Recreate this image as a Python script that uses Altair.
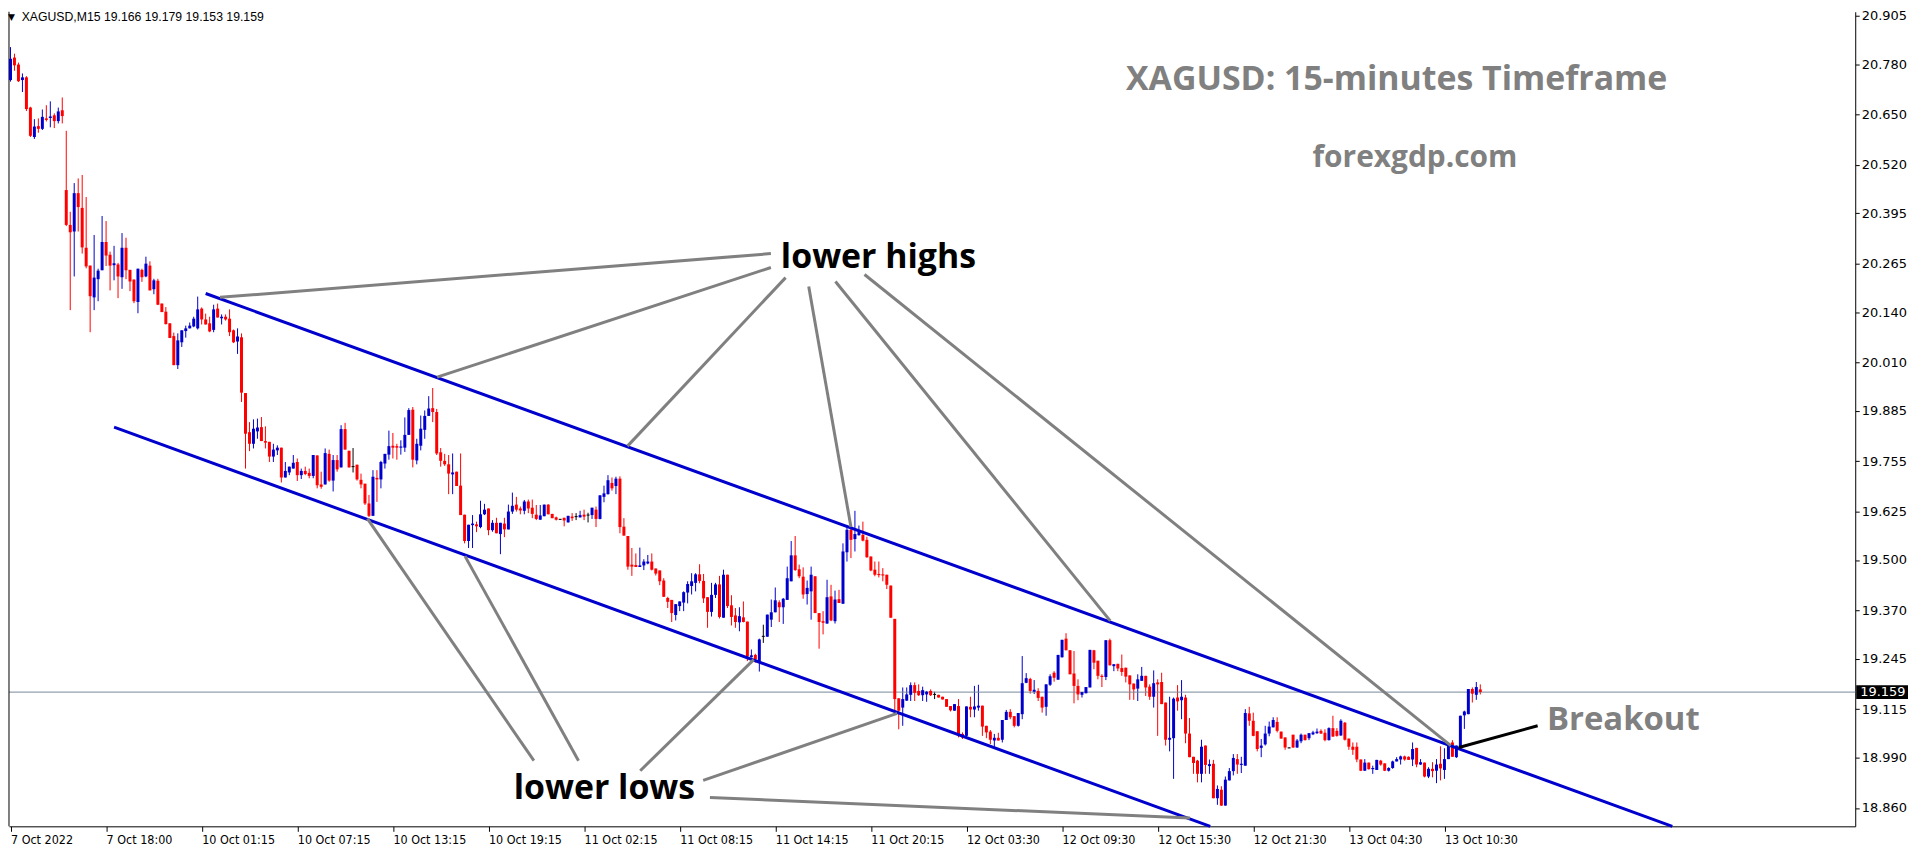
import json
import altair as alt
import pandas as pd

# ---------------- data ----------------
opens = [
 20.739, 20.797, 20.779, 20.739, 20.746, 20.668, 20.592, 20.620, 20.613, 20.640,
 20.641, 20.648, 20.633, 20.661, 20.455, 20.365, 20.348, 20.447, 20.409, 20.306,
 20.260, 20.178, 20.225, 20.248, 20.321, 20.288, 20.261, 20.263, 20.230, 20.306,
 20.249, 20.224, 20.166, 20.249, 20.232, 20.260, 20.199, 20.221, 20.162, 20.141,
 20.111, 20.078, 20.003, 20.062, 20.091, 20.098, 20.103, 20.098, 20.149, 20.121,
 20.111, 20.094, 20.149, 20.124, 20.128, 20.123, 20.093, 20.064, 20.075, 19.931,
 19.830, 19.800, 19.832, 19.843, 19.807, 19.805, 19.767, 19.783, 19.790, 19.713,
 19.726, 19.736, 19.753, 19.719, 19.730, 19.725, 19.717, 19.770, 19.695, 19.695,
 19.774, 19.705, 19.758, 19.739, 19.838, 19.782, 19.741, 19.746, 19.707, 19.697,
 19.646, 19.614, 19.712, 19.708, 19.749, 19.772, 19.795, 19.794, 19.790, 19.790,
 19.823, 19.888, 19.757, 19.795, 19.836, 19.872, 19.892, 19.882, 19.778, 19.756,
 19.747, 19.721, 19.728, 19.692, 19.617, 19.549, 19.590, 19.592, 19.585, 19.618,
 19.633, 19.577, 19.596, 19.567, 19.594, 19.579, 19.625, 19.643, 19.633, 19.627,
 19.651, 19.635, 19.617, 19.604, 19.613, 19.643, 19.619, 19.610, 19.605, 19.609,
 19.597, 19.612, 19.612, 19.610, 19.617, 19.616, 19.616, 19.630, 19.606, 19.663,
 19.670, 19.699, 19.691, 19.710, 19.586, 19.562, 19.488, 19.487, 19.482, 19.486,
 19.491, 19.496, 19.478, 19.473, 19.447, 19.402, 19.397, 19.358, 19.381, 19.390,
 19.416, 19.433, 19.441, 19.463, 19.446, 19.404, 19.366, 19.410, 19.437, 19.351,
 19.462, 19.383, 19.357, 19.339, 19.352, 19.341, 19.249, 19.255, 19.239, 19.303,
 19.302, 19.346, 19.365, 19.391, 19.378, 19.397, 19.445, 19.512, 19.476, 19.457,
 19.412, 19.419, 19.458, 19.363, 19.342, 19.336, 19.406, 19.342, 19.399, 19.387,
 19.520, 19.578, 19.554, 19.564, 19.565, 19.552, 19.509, 19.475, 19.464, 19.463,
 19.462, 19.434, 19.348, 19.143, 19.119, 19.137, 19.152, 19.177, 19.162, 19.151,
 19.153, 19.162, 19.153, 19.152, 19.147, 19.141, 19.123, 19.111, 19.123, 19.051,
 19.046, 19.121, 19.114, 19.119, 19.124, 19.072, 19.057, 19.034, 19.041, 19.036,
 19.087, 19.108, 19.097, 19.072, 19.102, 19.183, 19.193, 19.160, 19.162, 19.147,
 19.121, 19.178, 19.209, 19.191, 19.249, 19.297, 19.267, 19.207, 19.175, 19.152,
 19.156, 19.171, 19.267, 19.240, 19.201, 19.198, 19.293, 19.226, 19.232, 19.221,
 19.222, 19.202, 19.181, 19.168, 19.188, 19.201, 19.173, 19.147, 19.184, 19.185,
 19.132, 19.036, 19.040, 19.145, 19.138, 19.145, 19.052, 18.992, 18.982, 18.948,
 19.021, 18.968, 18.974, 18.885, 18.907, 18.866, 18.931, 18.955, 18.986, 18.971,
 18.969, 19.104, 19.085, 19.058, 19.015, 19.024, 19.052, 19.068, 19.082, 19.057,
 19.042, 19.015, 19.049, 19.016, 19.032, 19.049, 19.040, 19.050, 19.053, 19.059,
 19.054, 19.035, 19.066, 19.059, 19.047, 19.080, 19.039, 19.018, 19.018, 18.985,
 18.956, 18.977, 18.960, 18.958, 18.982, 18.975, 18.956, 18.963, 18.980, 18.985,
 18.993, 18.992, 18.985, 19.015, 18.972, 18.977, 18.941, 18.961, 18.956, 18.974,
 18.958, 18.986, 19.029, 18.991, 19.019, 19.099, 19.102, 19.167, 19.152, 19.166,
]
highs = [
 20.824, 20.807, 20.784, 20.756, 20.749, 20.670, 20.638, 20.640, 20.663, 20.674,
 20.684, 20.653, 20.668, 20.694, 20.608, 20.399, 20.473, 20.485, 20.494, 20.437,
 20.260, 20.339, 20.252, 20.388, 20.375, 20.296, 20.311, 20.267, 20.344, 20.332,
 20.249, 20.224, 20.252, 20.252, 20.283, 20.271, 20.226, 20.226, 20.162, 20.153,
 20.111, 20.087, 20.085, 20.093, 20.105, 20.113, 20.128, 20.180, 20.152, 20.136,
 20.128, 20.159, 20.162, 20.134, 20.134, 20.147, 20.095, 20.098, 20.085, 19.931,
 19.856, 19.863, 19.865, 19.869, 19.845, 19.805, 19.800, 19.796, 19.790, 19.753,
 19.741, 19.771, 19.762, 19.736, 19.741, 19.736, 19.771, 19.770, 19.728, 19.788,
 19.785, 19.771, 19.771, 19.848, 19.854, 19.782, 19.789, 19.746, 19.723, 19.697,
 19.668, 19.732, 19.732, 19.756, 19.774, 19.834, 19.828, 19.800, 19.809, 19.868,
 19.892, 19.895, 19.813, 19.873, 19.886, 19.923, 19.944, 19.890, 19.789, 19.774,
 19.771, 19.775, 19.728, 19.775, 19.617, 19.591, 19.616, 19.599, 19.653, 19.645,
 19.633, 19.603, 19.609, 19.596, 19.609, 19.643, 19.674, 19.663, 19.638, 19.655,
 19.656, 19.656, 19.642, 19.642, 19.643, 19.644, 19.619, 19.612, 19.606, 19.609,
 19.614, 19.621, 19.621, 19.627, 19.630, 19.622, 19.635, 19.638, 19.667, 19.692,
 19.719, 19.713, 19.715, 19.716, 19.608, 19.562, 19.531, 19.517, 19.532, 19.502,
 19.513, 19.517, 19.478, 19.473, 19.453, 19.405, 19.397, 19.386, 19.393, 19.419,
 19.445, 19.466, 19.466, 19.489, 19.464, 19.404, 19.441, 19.441, 19.459, 19.475,
 19.462, 19.409, 19.376, 19.378, 19.393, 19.341, 19.269, 19.258, 19.297, 19.333,
 19.359, 19.398, 19.429, 19.396, 19.402, 19.483, 19.549, 19.562, 19.488, 19.481,
 19.447, 19.483, 19.458, 19.363, 19.368, 19.449, 19.436, 19.421, 19.423, 19.543,
 19.586, 19.586, 19.627, 19.589, 19.599, 19.560, 19.509, 19.496, 19.496, 19.479,
 19.462, 19.434, 19.348, 19.143, 19.171, 19.171, 19.184, 19.184, 19.179, 19.173,
 19.162, 19.166, 19.160, 19.152, 19.147, 19.141, 19.123, 19.128, 19.141, 19.055,
 19.122, 19.147, 19.175, 19.178, 19.124, 19.072, 19.061, 19.051, 19.054, 19.087,
 19.113, 19.115, 19.097, 19.105, 19.252, 19.208, 19.196, 19.190, 19.169, 19.147,
 19.179, 19.205, 19.213, 19.255, 19.294, 19.311, 19.267, 19.265, 19.192, 19.159,
 19.172, 19.268, 19.268, 19.240, 19.205, 19.293, 19.297, 19.231, 19.232, 19.256,
 19.222, 19.202, 19.181, 19.205, 19.224, 19.201, 19.179, 19.215, 19.192, 19.209,
 19.132, 19.147, 19.145, 19.177, 19.190, 19.152, 19.092, 18.992, 18.984, 19.036,
 19.021, 18.985, 18.984, 18.918, 18.916, 18.941, 18.963, 18.999, 18.999, 18.992,
 19.115, 19.121, 19.106, 19.058, 19.038, 19.072, 19.083, 19.094, 19.094, 19.057,
 19.042, 19.016, 19.049, 19.038, 19.052, 19.049, 19.053, 19.059, 19.065, 19.063,
 19.063, 19.068, 19.098, 19.066, 19.089, 19.082, 19.039, 19.029, 19.029, 18.985,
 18.986, 18.977, 18.969, 18.984, 18.984, 18.975, 18.965, 18.982, 18.991, 18.995,
 18.995, 18.993, 19.029, 19.015, 18.986, 18.977, 18.965, 18.978, 18.986, 19.019,
 19.014, 19.027, 19.035, 19.021, 19.098, 19.111, 19.167, 19.171, 19.185, 19.179,
]
lows = [
 20.735, 20.763, 20.734, 20.708, 20.659, 20.592, 20.587, 20.603, 20.610, 20.632,
 20.617, 20.615, 20.627, 20.627, 20.362, 20.145, 20.232, 20.348, 20.291, 20.253,
 20.088, 20.145, 20.168, 20.248, 20.259, 20.196, 20.222, 20.176, 20.200, 20.225,
 20.194, 20.163, 20.137, 20.218, 20.230, 20.196, 20.186, 20.158, 20.140, 20.108,
 20.073, 20.003, 19.993, 20.050, 20.074, 20.098, 20.101, 20.095, 20.108, 20.108,
 20.088, 20.088, 20.126, 20.108, 20.118, 20.078, 20.060, 20.032, 19.908, 19.736,
 19.781, 19.788, 19.813, 19.807, 19.788, 19.753, 19.753, 19.771, 19.700, 19.713,
 19.719, 19.736, 19.704, 19.709, 19.719, 19.711, 19.711, 19.685, 19.684, 19.695,
 19.702, 19.677, 19.728, 19.739, 19.785, 19.739, 19.726, 19.705, 19.685, 19.642,
 19.611, 19.614, 19.650, 19.685, 19.736, 19.759, 19.762, 19.759, 19.772, 19.779,
 19.823, 19.739, 19.747, 19.783, 19.813, 19.872, 19.856, 19.771, 19.741, 19.743,
 19.670, 19.670, 19.691, 19.616, 19.543, 19.531, 19.531, 19.572, 19.582, 19.616,
 19.564, 19.573, 19.569, 19.515, 19.559, 19.579, 19.619, 19.625, 19.618, 19.618,
 19.621, 19.608, 19.603, 19.604, 19.613, 19.618, 19.608, 19.602, 19.604, 19.587,
 19.597, 19.601, 19.603, 19.610, 19.603, 19.597, 19.606, 19.585, 19.605, 19.649,
 19.669, 19.679, 19.670, 19.569, 19.563, 19.475, 19.459, 19.482, 19.482, 19.474,
 19.489, 19.473, 19.460, 19.435, 19.405, 19.376, 19.340, 19.344, 19.368, 19.368,
 19.388, 19.411, 19.419, 19.440, 19.389, 19.325, 19.354, 19.402, 19.349, 19.351,
 19.376, 19.331, 19.325, 19.316, 19.339, 19.239, 19.248, 19.235, 19.212, 19.286,
 19.302, 19.327, 19.365, 19.340, 19.335, 19.397, 19.445, 19.472, 19.453, 19.400,
 19.385, 19.346, 19.363, 19.271, 19.308, 19.335, 19.342, 19.336, 19.389, 19.387,
 19.496, 19.505, 19.522, 19.563, 19.548, 19.506, 19.471, 19.458, 19.455, 19.445,
 19.425, 19.351, 19.111, 19.063, 19.072, 19.136, 19.136, 19.136, 19.149, 19.136,
 19.134, 19.149, 19.141, 19.145, 19.140, 19.121, 19.109, 19.111, 19.042, 19.038,
 19.044, 19.094, 19.094, 19.111, 19.046, 19.040, 19.025, 19.018, 19.034, 19.029,
 19.087, 19.089, 19.068, 19.070, 19.089, 19.182, 19.155, 19.154, 19.136, 19.106,
 19.098, 19.175, 19.186, 19.191, 19.248, 19.267, 19.205, 19.130, 19.138, 19.145,
 19.156, 19.171, 19.218, 19.192, 19.172, 19.190, 19.228, 19.213, 19.213, 19.201,
 19.184, 19.139, 19.139, 19.136, 19.188, 19.149, 19.139, 19.119, 19.046, 19.128,
 19.021, 19.006, 18.935, 19.111, 19.089, 19.027, 18.991, 18.948, 18.926, 18.926,
 18.948, 18.948, 18.885, 18.868, 18.865, 18.866, 18.931, 18.944, 18.948, 18.950,
 18.969, 19.072, 19.045, 19.006, 18.991, 19.021, 19.045, 19.068, 19.055, 19.039,
 19.010, 19.014, 19.015, 19.015, 19.027, 19.034, 19.035, 19.048, 19.051, 19.051,
 19.032, 19.034, 19.044, 19.044, 19.046, 19.034, 19.010, 18.997, 18.978, 18.955,
 18.956, 18.959, 18.948, 18.958, 18.969, 18.955, 18.954, 18.961, 18.980, 18.972,
 18.982, 18.984, 18.968, 18.965, 18.971, 18.939, 18.937, 18.939, 18.924, 18.931,
 18.935, 18.986, 18.992, 18.989, 19.016, 19.064, 19.102, 19.132, 19.139, 19.153,
]
closes = [
 20.794, 20.777, 20.736, 20.746, 20.664, 20.595, 20.619, 20.613, 20.644, 20.636,
 20.645, 20.633, 20.658, 20.646, 20.365, 20.346, 20.447, 20.411, 20.307, 20.258,
 20.181, 20.229, 20.247, 20.321, 20.286, 20.260, 20.266, 20.232, 20.306, 20.248,
 20.219, 20.168, 20.252, 20.230, 20.265, 20.196, 20.222, 20.159, 20.140, 20.109,
 20.073, 20.003, 20.067, 20.093, 20.098, 20.105, 20.123, 20.147, 20.121, 20.108,
 20.090, 20.147, 20.126, 20.128, 20.121, 20.088, 20.062, 20.077, 19.932, 19.826,
 19.800, 19.839, 19.842, 19.807, 19.803, 19.767, 19.785, 19.790, 19.713, 19.730,
 19.741, 19.751, 19.719, 19.730, 19.722, 19.717, 19.771, 19.693, 19.689, 19.776,
 19.705, 19.758, 19.734, 19.838, 19.785, 19.739, 19.741, 19.708, 19.695, 19.646,
 19.614, 19.715, 19.708, 19.753, 19.774, 19.794, 19.790, 19.790, 19.793, 19.823,
 19.887, 19.759, 19.800, 19.839, 19.872, 19.891, 19.882, 19.775, 19.756, 19.747,
 19.723, 19.726, 19.691, 19.616, 19.549, 19.591, 19.594, 19.587, 19.618, 19.630,
 19.577, 19.596, 19.569, 19.596, 19.579, 19.625, 19.640, 19.630, 19.628, 19.651,
 19.633, 19.619, 19.606, 19.615, 19.643, 19.618, 19.608, 19.604, 19.605, 19.602,
 19.614, 19.608, 19.612, 19.616, 19.612, 19.616, 19.635, 19.606, 19.667, 19.672,
 19.706, 19.685, 19.710, 19.585, 19.563, 19.483, 19.483, 19.482, 19.486, 19.496,
 19.496, 19.475, 19.465, 19.445, 19.405, 19.392, 19.363, 19.386, 19.393, 19.417,
 19.438, 19.445, 19.463, 19.446, 19.401, 19.366, 19.410, 19.437, 19.353, 19.462,
 19.381, 19.353, 19.340, 19.355, 19.340, 19.251, 19.254, 19.243, 19.295, 19.303,
 19.359, 19.365, 19.396, 19.378, 19.400, 19.453, 19.512, 19.474, 19.458, 19.411,
 19.428, 19.462, 19.363, 19.340, 19.338, 19.404, 19.344, 19.398, 19.389, 19.522,
 19.578, 19.552, 19.567, 19.572, 19.550, 19.507, 19.473, 19.462, 19.461, 19.460,
 19.436, 19.351, 19.141, 19.111, 19.141, 19.153, 19.177, 19.157, 19.151, 19.164,
 19.160, 19.151, 19.153, 19.145, 19.140, 19.121, 19.112, 19.128, 19.049, 19.042,
 19.122, 19.114, 19.122, 19.124, 19.070, 19.055, 19.036, 19.041, 19.034, 19.087,
 19.108, 19.094, 19.072, 19.105, 19.182, 19.195, 19.162, 19.165, 19.144, 19.119,
 19.179, 19.200, 19.196, 19.255, 19.294, 19.267, 19.205, 19.175, 19.153, 19.159,
 19.172, 19.268, 19.235, 19.201, 19.198, 19.293, 19.228, 19.231, 19.220, 19.211,
 19.199, 19.179, 19.166, 19.192, 19.201, 19.171, 19.147, 19.182, 19.179, 19.128,
 19.036, 19.041, 19.142, 19.135, 19.147, 19.052, 18.991, 18.976, 18.948, 19.018,
 18.971, 18.973, 18.885, 18.909, 18.866, 18.933, 18.955, 18.989, 18.972, 18.974,
 19.105, 19.085, 19.046, 19.012, 19.021, 19.052, 19.070, 19.087, 19.059, 19.039,
 19.016, 19.015, 19.016, 19.034, 19.049, 19.035, 19.053, 19.055, 19.057, 19.052,
 19.035, 19.066, 19.044, 19.046, 19.085, 19.036, 19.018, 19.010, 18.985, 18.956,
 18.977, 18.960, 18.963, 18.984, 18.972, 18.956, 18.963, 18.980, 18.986, 18.993,
 18.985, 18.984, 19.012, 18.972, 18.978, 18.941, 18.961, 18.955, 18.972, 18.962,
 18.986, 19.023, 18.992, 19.021, 19.098, 19.109, 19.167, 19.155, 19.172, 19.159,
]

x_tick_bars = [0, 24, 48, 72, 96, 120, 144, 168, 192, 216, 240, 264, 288, 312, 336, 360]
x_tick_labels = ["7 Oct 2022", "7 Oct 18:00", "10 Oct 01:15", "10 Oct 07:15", "10 Oct 13:15",
                 "10 Oct 19:15", "11 Oct 02:15", "11 Oct 08:15", "11 Oct 14:15", "11 Oct 20:15",
                 "12 Oct 03:30", "12 Oct 09:30", "12 Oct 15:30", "12 Oct 21:30", "13 Oct 04:30",
                 "13 Oct 10:30"]
y_tick_values = [20.905, 20.780, 20.650, 20.520, 20.395, 20.265, 20.140, 20.010, 19.885,
                 19.755, 19.625, 19.500, 19.370, 19.245, 19.115, 18.990, 18.860]
last_price = 19.159
header_text = "XAGUSD,M15  19.166 19.179 19.153 19.159"

# channel lines (bar index, price)
channel_x1 = [49, 26]
channel_y1 = [20.188, 19.843]
channel_x2 = [417.2, 301.2]
channel_y2 = [18.8125, 18.8125]

# grey pointer lines
grey_x1 = [52.6, 107.1, 154.9, 211.0, 276.1, 361.6, 89.6, 114.1, 186.6, 222.6, 175.6]
grey_y1 = [20.178, 19.972, 19.794, 19.585, 19.343, 19.021, 19.607, 19.510, 19.243, 19.104, 18.887]
grey_x2 = [190.9, 190.9, 194.6, 200.4, 207.1, 214.4, 131.4, 142.6, 158.1, 173.9, 296.1]
grey_y2 = [20.291, 20.255, 20.229, 20.206, 20.219, 20.237, 18.982, 18.982, 18.956, 18.931, 18.834]

breakout_x = [363.6, 383.4]
breakout_y = [19.016, 19.072]

notes = ["XAGUSD: 15-minutes Timeframe", "forexgdp.com", "lower highs", "lower lows", "Breakout"]
note_bar = [348.0, 352.6, 217.9, 149.1, 404.9]
note_price = [20.740, 20.537, 20.280, 18.910, 19.086]

# ---------------- chart ----------------
PLOT_W = 1854
PLOT_H = 818
BLUE = "#0000cd"
X_MIN = -0.375
X_MAX = X_MIN + PLOT_W / 4

xs = alt.Scale(domain=[X_MIN, X_MAX], nice=False, zero=False, padding=0)
ys = alt.Scale(domain=[18.8125, 20.9153], nice=False, zero=False, padding=0)
col = alt.Scale(domain=["up", "down", "doji"], range=[BLUE, "#ff0000", "#000000"])

n = len(opens)
candles = pd.DataFrame({"bar": list(range(n)), "open": opens, "high": highs,
                        "low": lows, "close": closes})
candles["dir"] = ["up" if c > o else ("down" if c < o else "doji") for o, c in zip(opens, closes)]
candles["left"] = candles["bar"] - 0.375
candles["right"] = candles["bar"] + 0.375

label_js = json.dumps(x_tick_labels)
x_axis = alt.Axis(values=x_tick_bars, labelExpr=label_js + "[round(datum.value / 24)]",
                  labelAlign="left", labelBaseline="top", labelPadding=2, tickSize=5,
                  tickColor="black", domainColor="black", labelColor="black",
                  labelFont="DejaVu Sans Condensed", labelFontSize=12.5, grid=False,
                  title=None, labelOverlap=False, labelFlush=False)
y_axis = alt.Axis(orient="right", values=y_tick_values, format=".3f", tickSize=4,
                  labelPadding=2, tickColor="black", domainColor="black",
                  labelColor="black", labelFont="DejaVu Sans", labelFontSize=13,
                  grid=False, title=None, labelOverlap=False, labelFlush=False)


def X(f):
    return alt.X(f, scale=xs, axis=x_axis)


def Y(f):
    return alt.Y(f, scale=ys, axis=y_axis)


wicks = alt.Chart(candles).mark_rule(strokeWidth=1).encode(
    x=X("bar:Q"), y=Y("low:Q"), y2="high:Q",
    color=alt.Color("dir:N", scale=col, legend=None))

price_df = pd.DataFrame({"price": [last_price]})
price_line = alt.Chart(price_df).mark_rule(color="#778899", strokeWidth=1).encode(
    y=Y("price:Q"))

frame_df = pd.DataFrame({"bar": [X_MIN]})
left_frame = alt.Chart(frame_df).mark_rule(color="black", strokeWidth=1).encode(
    x=X("bar:Q"))

bodies = alt.Chart(candles).transform_filter("datum.dir != 'doji'").mark_bar(size=3).encode(
    x=X("bar:Q"), y=Y("open:Q"), y2="close:Q",
    color=alt.Color("dir:N", scale=col, legend=None))

doji = alt.Chart(candles).transform_filter("datum.dir == 'doji'").mark_rule(
    strokeWidth=1, color="black").encode(
    x=X("left:Q"), x2="right:Q", y=Y("open:Q"))


def segs(x1, y1, x2, y2, color, width):
    df = pd.DataFrame({"x1": x1, "y1": y1, "x2": x2, "y2": y2})
    return alt.Chart(df).mark_rule(color=color, strokeWidth=width).encode(
        x=X("x1:Q"), x2="x2:Q", y=Y("y1:Q"), y2="y2:Q")


channels = segs(channel_x1, channel_y1, channel_x2, channel_y2, BLUE, 3)
greys = segs(grey_x1, grey_y1, grey_x2, grey_y2, "#808080", 3)
breakout = segs([breakout_x[0]], [breakout_y[0]], [breakout_x[1]], [breakout_y[1]], "#000000", 3)


def note(i, size, color):
    df = pd.DataFrame({"bar": [note_bar[i]], "price": [note_price[i]], "t": [notes[i]]})
    return alt.Chart(df).mark_text(font="Open Sans", fontWeight="bold", fontSize=size,
                                   color=color, align="center", baseline="middle").encode(
        x=X("bar:Q"), y=Y("price:Q"), text="t:N")


texts = [note(0, 34, "#808080"), note(1, 30, "#808080"), note(2, 34, "#000000"),
         note(3, 34, "#000000"), note(4, 33, "#808080")]

hdr_df = pd.DataFrame({"bar": [2.8], "price": [20.9021], "t": [header_text]})
header = alt.Chart(hdr_df).mark_text(font="Liberation Sans", fontSize=12.3, color="#000000",
                                     align="left", baseline="middle").encode(
    x=X("bar:Q"), y=Y("price:Q"), text="t:N")
tri_df = pd.DataFrame({"bar": [0.25], "price": [20.9021], "t": ["▼"]})
triangle = alt.Chart(tri_df).mark_text(font="DejaVu Sans", fontSize=9, color="#000000",
                                       align="center", baseline="middle").encode(
    x=X("bar:Q"), y=Y("price:Q"), text="t:N")

price_box = alt.Chart(price_df).transform_calculate(
    top="datum.price + 0.0175", bot="datum.price - 0.0175").mark_rect(color="black").encode(
    x=alt.value(PLOT_W + 1), x2=alt.value(PLOT_W + 53),
    y=Y("top:Q"), y2="bot:Q")
price_txt = alt.Chart(price_df).mark_text(align="left", baseline="middle", color="white",
                                          font="DejaVu Sans", fontSize=13).encode(
    x=alt.value(PLOT_W + 5), y=Y("price:Q"),
    text=alt.Text("price:Q", format=".3f"))

chart = alt.layer(
    wicks, price_line, left_frame, bodies, doji, channels, greys, breakout, *texts,
    header, triangle, price_box, price_txt
).properties(
    width=PLOT_W, height=PLOT_H, padding=0, background="white"
).configure_view(stroke=None)

chart.save("out.html", embed_options={"renderer": "svg", "actions": False})
